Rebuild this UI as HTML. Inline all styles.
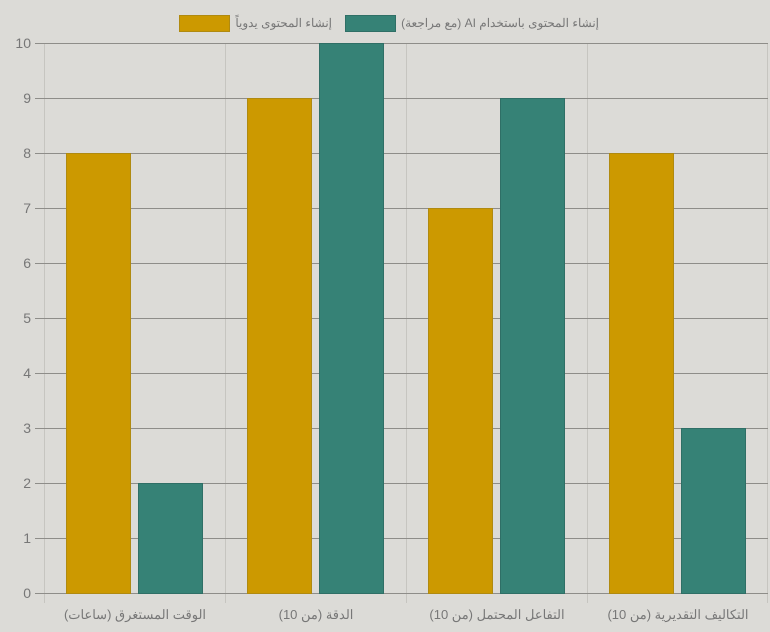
<!DOCTYPE html>
<html><head><meta charset="utf-8"><style>
html,body{margin:0;padding:0;background:#dcdbd7;}
svg{display:block;font-family:"Liberation Sans","Noto Sans CJK SC",sans-serif;}
.lg{position:absolute;top:14px;font-family:"Liberation Sans","Noto Sans CJK SC",sans-serif;font-size:12px;color:#777;direction:rtl;white-space:nowrap;line-height:18px;text-align:right;}
</style></head><body>
<div style="position:relative;width:770px;height:632px;">
<svg width="770" height="632" viewBox="0 0 770 632">
<rect width="770" height="632" fill="#dcdbd7"/>
<g stroke="#c6c5c0" stroke-width="1">
<line x1="44.5" y1="43" x2="44.5" y2="603"/>
<line x1="225.5" y1="43" x2="225.5" y2="603"/>
<line x1="406.5" y1="43" x2="406.5" y2="603"/>
<line x1="587.5" y1="43" x2="587.5" y2="603"/>
<line x1="767.5" y1="43" x2="767.5" y2="603"/>
</g>
<g stroke="#8e8d89" stroke-width="1">
<line x1="35" y1="43.5" x2="768" y2="43.5"/>
<line x1="35" y1="98.5" x2="768" y2="98.5"/>
<line x1="35" y1="153.5" x2="768" y2="153.5"/>
<line x1="35" y1="208.5" x2="768" y2="208.5"/>
<line x1="35" y1="263.5" x2="768" y2="263.5"/>
<line x1="35" y1="318.5" x2="768" y2="318.5"/>
<line x1="35" y1="373.5" x2="768" y2="373.5"/>
<line x1="35" y1="428.5" x2="768" y2="428.5"/>
<line x1="35" y1="483.5" x2="768" y2="483.5"/>
<line x1="35" y1="538.5" x2="768" y2="538.5"/>
<line x1="35" y1="593.5" x2="768" y2="593.5"/>
</g>
<g fill="#777" font-size="14" text-anchor="end">
<text x="31" y="48">10</text><text x="31" y="103">9</text><text x="31" y="158">8</text>
<text x="31" y="213">7</text><text x="31" y="268">6</text><text x="31" y="323">5</text>
<text x="31" y="378">4</text><text x="31" y="433">3</text><text x="31" y="488">2</text>
<text x="31" y="543">1</text><text x="31" y="598">0</text>
</g>
<g fill="#cc9900" stroke="#b08a10" stroke-width="1">
<rect x="66.5" y="153.5" width="64" height="440"/>
<rect x="247.5" y="98.5" width="64" height="495"/>
<rect x="428.5" y="208.5" width="64" height="385"/>
<rect x="609.5" y="153.5" width="64" height="440"/>
</g>
<g fill="#368276" stroke="#2f6f66" stroke-width="1">
<rect x="138.5" y="483.5" width="64" height="110"/>
<rect x="319.5" y="43.5" width="64" height="550"/>
<rect x="500.5" y="98.5" width="64" height="495"/>
<rect x="681.5" y="428.5" width="64" height="165"/>
</g>
<g fill="#777" font-size="13" text-anchor="middle">
<text x="135" y="619">الوقت المستغرق (ساعات)</text>
<text x="316" y="619">الدقة (من 10)</text>
<text x="497" y="619">التفاعل المحتمل (من 10)</text>
<text x="678" y="619">التكاليف التقديرية (من 10)</text>
</g>
<rect x="179.5" y="15.5" width="50" height="16" fill="#cc9900" stroke="#b08a10"/>
<rect x="345.5" y="15.5" width="50" height="16" fill="#368276" stroke="#2f6f66"/>
</svg>
<div class="lg" style="right:438px;">إنشاء المحتوى يدوياً</div>
<div class="lg" style="right:171px;">إنشاء المحتوى باستخدام AI (مع مراجعة)</div>
</div>
</body></html>
